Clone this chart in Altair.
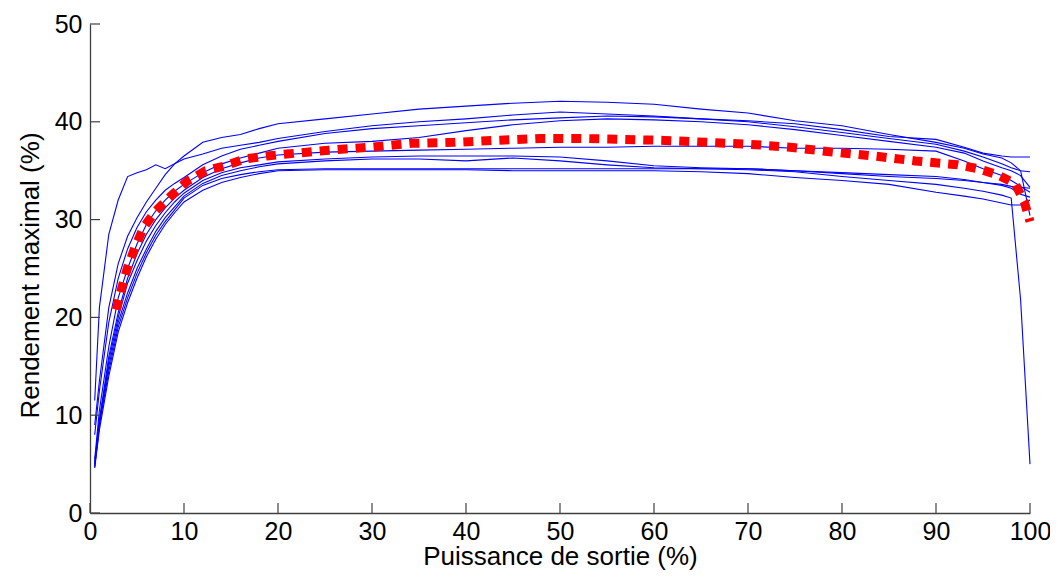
import altair as alt
import pandas as pd

# ---------------- data ----------------
x_grid = [0.5, 1, 2, 3, 4, 5, 6, 7, 8, 9, 10, 12, 14, 16, 18, 20, 25, 30, 35, 40,
          45, 50, 55, 60, 65, 70, 75, 80, 85, 90, 93, 95, 97, 98, 99, 100]

line_1 = [9.0, 13.5, 21.0, 25.5, 28.3, 30.2, 31.8, 33.2, 34.6, 35.7, 36.5, 37.9, 38.4, 38.7, 39.3, 39.8, 40.3, 40.8, 41.3, 41.6,
          41.9, 42.1, 42.0, 41.8, 41.3, 40.9, 40.1, 39.6, 38.7, 37.9, 37.3, 36.7, 36.3, 35.8, 35.0, 30.4]
line_2 = [11.5, 21.0, 28.5, 32.0, 34.4, 34.8, 35.1, 35.6, 35.2, 35.7, 36.2, 36.7, 37.3, 37.6, 37.9, 38.3, 39.0, 39.6, 40.0, 40.3,
          40.7, 41.0, 40.8, 40.6, 40.3, 40.1, 39.8, 39.2, 38.5, 38.2, 37.4, 36.8, 36.5, 36.4, 36.4, 36.4]
line_3 = [8.0, 12.5, 19.5, 24.0, 27.0, 29.2, 30.8, 32.0, 33.0, 33.7, 34.3, 35.6, 36.5, 37.2, 37.6, 38.0, 38.8, 39.3, 39.6, 39.9,
          40.2, 40.4, 40.6, 40.5, 40.3, 40.0, 39.5, 38.9, 38.3, 37.7, 37.0, 36.4, 35.7, 35.3, 35.0, 34.9]
line_4 = [5.5, 10.5, 17.0, 22.0, 25.0, 27.5, 29.5, 30.9, 32.0, 32.9, 33.6, 34.8, 35.7, 36.3, 36.8, 37.3, 37.8, 38.0, 38.4, 39.1,
          39.7, 40.1, 40.3, 40.2, 40.0, 39.7, 39.2, 38.6, 38.0, 37.4, 36.8, 36.0, 35.3, 35.0, 34.5, 33.3]
line_5 = [5.0, 9.5, 16.0, 20.5, 24.0, 26.5, 28.5, 30.0, 31.2, 32.2, 33.0, 34.3, 35.2, 35.8, 36.3, 36.6, 36.9, 37.0, 37.1, 37.2,
          37.3, 37.4, 37.4, 37.5, 37.5, 37.5, 37.3, 37.3, 37.2, 37.0, 36.0, 35.2, 34.5, 34.0, 33.4, 32.8]
line_6 = [4.7, 9.0, 15.5, 20.0, 23.5, 25.8, 27.8, 29.4, 30.7, 31.8, 32.7, 34.0, 34.8, 35.3, 35.6, 35.9, 36.2, 36.4, 36.5, 36.5,
          36.5, 36.4, 36.0, 35.5, 35.3, 35.2, 35.0, 34.8, 34.6, 34.4, 34.1, 33.8, 33.6, 33.4, 33.3, 33.2]
line_7 = [5.2, 9.5, 15.0, 19.5, 22.5, 25.0, 27.0, 28.8, 30.2, 31.3, 32.4, 33.7, 34.5, 35.0, 35.4, 35.7, 36.0, 36.2, 36.2, 36.0,
          36.3, 36.0, 35.6, 35.3, 35.2, 35.1, 34.9, 34.4, 34.0, 33.6, 33.2, 32.9, 32.5, 32.2, 21.8, 5.0]
line_8 = [4.8, 9.0, 14.5, 19.0, 22.0, 24.5, 26.6, 28.4, 29.8, 31.0, 32.2, 33.5, 34.2, 34.6, 34.9, 35.1, 35.2, 35.2, 35.2, 35.2,
          35.2, 35.2, 35.2, 35.2, 35.2, 35.2, 35.0, 34.7, 34.4, 34.2, 34.0, 33.8, 33.5, 33.2, 32.6, 32.3]
line_9 = [4.6, 8.5, 14.0, 18.5, 21.5, 24.0, 26.2, 28.0, 29.5, 30.7, 31.8, 33.0, 33.8, 34.3, 34.7, 35.0, 35.1, 35.1, 35.1, 35.1,
          35.0, 35.0, 35.0, 35.0, 34.9, 34.7, 34.3, 34.0, 33.6, 32.8, 32.4, 32.1, 31.7, 31.5, 31.5, 32.0]

mean_x = [2.8, 3.4, 4.0, 4.8, 5.7, 7.0, 8.6, 10.3, 12.3, 14.4, 16.5, 18.8, 20.9, 25.4, 29.8, 34.2, 38.8, 43.2,
          47.9, 52.2, 56.7, 61.1, 65.6, 70.2, 74.5, 79.0, 83.4, 87.8, 92.3, 94.5, 96.5, 98.4, 99.4, 100]
mean_y = [20.8, 23.1, 25.1, 27.2, 29.2, 30.9, 32.4, 33.9, 35.0, 35.5, 36.2, 36.5, 36.7, 37.1, 37.4, 37.8, 37.9, 38.1,
          38.3, 38.3, 38.2, 38.1, 37.9, 37.7, 37.4, 36.9, 36.5, 36.0, 35.6, 35.2, 34.6, 33.7, 31.8, 29.8]

x_ticks = [0, 10, 20, 30, 40, 50, 60, 70, 80, 90, 100]
y_ticks = [0, 10, 20, 30, 40, 50]

x_title = "Puissance de sortie (%)"
y_title = "Rendement maximal (%)"

# ---------------- tables ----------------
series = {"c1": line_1, "c2": line_2, "c3": line_3, "c4": line_4, "c5": line_5,
          "c6": line_6, "c7": line_7, "c8": line_8, "c9": line_9}
rows = []
for name, ys in series.items():
    for xv, yv in zip(x_grid, ys):
        rows.append({"series": name, "x": xv, "y": yv})
blue_df = pd.DataFrame(rows)
mean_df = pd.DataFrame({"x": mean_x, "y": mean_y})
xt_df = pd.DataFrame({"x": x_ticks})
yt_df = pd.DataFrame({"y": y_ticks})

# ---------------- styling ----------------
W, H = 940, 489
FONT = "Liberation Sans"
AX = "#404040"

xscale = alt.Scale(domain=[0, 100], nice=False, zero=False)
yscale = alt.Scale(domain=[0, 50], nice=False, zero=False)

xaxis = alt.Axis(values=x_ticks, ticks=False, grid=False, domainColor=AX, domainWidth=1.3,
                 labelFont=FONT, labelFontSize=25, labelColor="#000000", labelPadding=6,
                 labelFlush=False, labelOverlap=False,
                 titleFont=FONT, titleFontSize=26, titleFontWeight="normal", titleColor="#000000",
                 titleBaseline="alphabetic", titleY=51)
yaxis = alt.Axis(values=y_ticks, ticks=False, grid=False, domainColor=AX, domainWidth=1.3,
                 labelFont=FONT, labelFontSize=25, labelColor="#000000", labelPadding=8,
                 labelFlush=False, labelOverlap=False,
                 titleFont=FONT, titleFontSize=26, titleFontWeight="normal", titleColor="#000000",
                 titleAngle=270, titleBaseline="alphabetic", titleAlign="center",
                 titleX=-52, titleY=251)


def X(field):
    return alt.X(field, type="quantitative", scale=xscale, axis=xaxis, title=x_title)


def Y(field):
    return alt.Y(field, type="quantitative", scale=yscale, axis=yaxis, title=y_title)


blue = alt.Chart(blue_df).mark_line(color="#0000ff", strokeWidth=1.1).encode(
    x=X("x"), y=Y("y"), detail="series:N")

mean = alt.Chart(mean_df).mark_line(color="#ff0000", strokeWidth=9, strokeDash=[10, 8],
                                    strokeCap="butt").encode(x=X("x"), y=Y("y"))

xt = alt.Chart(xt_df).mark_rule(color=AX, strokeWidth=1.2).encode(
    x=X("x"), y=alt.value(H), y2=alt.value(H - 10))
yt = alt.Chart(yt_df).mark_rule(color=AX, strokeWidth=1.2).encode(
    y=Y("y"), x=alt.value(0), x2=alt.value(10))

chart = alt.layer(blue, mean, xt, yt).properties(
    width=W, height=H,
    autosize=alt.AutoSizeParams(type="none"),
    padding={"left": 82, "top": 16, "right": 20, "bottom": 57},
    background="white",
).configure_view(stroke=None)

chart.save("out.html", embed_options={"renderer": "svg", "actions": False})
